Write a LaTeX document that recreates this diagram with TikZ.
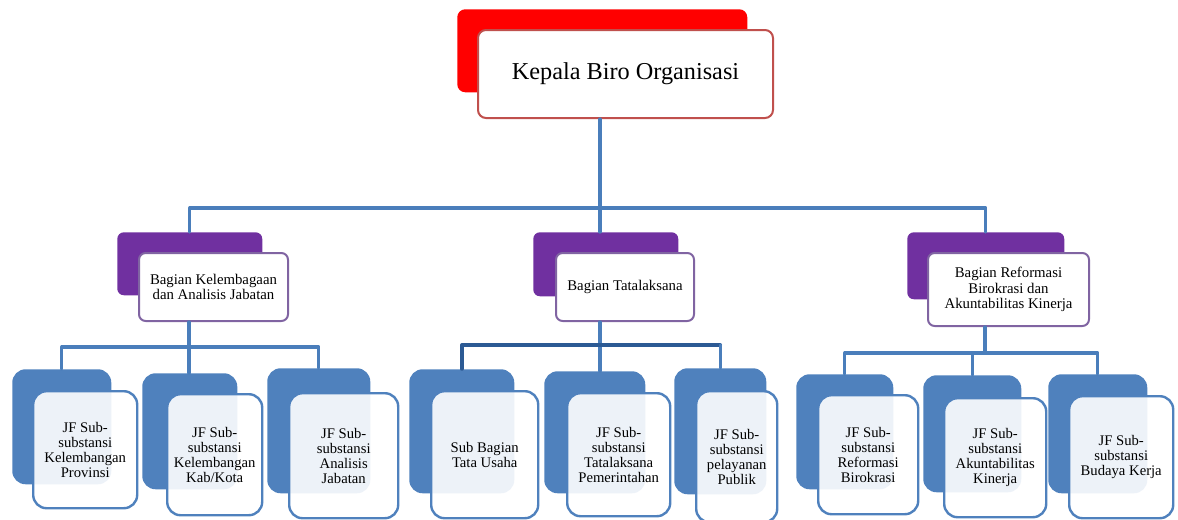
\documentclass[tikz,border=0pt]{standalone}
\usepackage{fontspec}
\setmainfont{Liberation Serif}
\definecolor{lnblue}{HTML}{4A7EBB}
\definecolor{lndark}{HTML}{2C5A94}
\definecolor{bkblue}{HTML}{4F81BD}
\definecolor{bkpurple}{HTML}{7030A0}
\definecolor{frpurple}{HTML}{8064A2}
\definecolor{frred}{HTML}{C0504D}
% box from pixel corners (x1,y1) to (x2,y2)
\newcommand\orgbox[7]{\node[#6,anchor=north west,inner sep=0pt,align=center,
  minimum width={(#4-#2)*0.75pt},minimum height={(#5-#3)*0.75pt}] (#1) at (#2,#3) {#7};}
\begin{document}
\begin{tikzpicture}[x=0.75pt,y=-0.75pt,line join=round,line cap=round,
  topback/.style={fill=red,rounded corners=6pt},
  topfront/.style={draw=frred,line width=1.5pt,fill=white,rounded corners=6pt,font=\fontsize{18.2}{20}\selectfont},
  midback/.style={fill=bkpurple,rounded corners=5pt},
  midfront/.style={draw=frpurple,line width=1.5pt,fill=white,rounded corners=5pt,font=\fontsize{11.1}{11.8}\selectfont},
  jfback/.style={fill=bkblue,rounded corners=10pt},
  jffront/.style={draw=bkblue,line width=1.8pt,fill=white,fill opacity=0.9,text opacity=1,rounded corners=10pt,font=\fontsize{11}{11.3}\selectfont},
  link/.style={draw=lnblue,line width=2.4pt},
  linkdark/.style={draw=lndark,line width=2.6pt}]
\useasboundingbox (0,0) rectangle (1178,519);
% top
\orgbox{kepalaB}{457}{9}{747}{92}{topback}{}
\orgbox{kepala}{477}{29}{772}{117}{topfront}{Kepala Biro Organisasi}
% middle level
\orgbox{kelB}{117}{232}{262}{295}{midback}{}
\orgbox{kel}{138}{252}{287}{320}{midfront}{Bagian Kelembagaan\\dan Analisis Jabatan}
\orgbox{tatB}{533}{232}{678}{296}{midback}{}
\orgbox{tat}{555}{252}{693}{320}{midfront}{Bagian Tatalaksana}
\orgbox{refB}{907}{232}{1064}{299}{midback}{}
\orgbox{ref}{927}{252}{1088}{325}{midfront}{Bagian Reformasi\\Birokrasi dan\\Akuntabilitas Kinerja}
% bottom level
\orgbox{kaB}{12}{369}{111}{484}{jfback}{}
\orgbox{ka}{32}{390}{136}{507}{jffront}{JF Sub-\\substansi\\Kelembangan\\Provinsi}
\orgbox{kbB}{142}{373}{237}{489}{jfback}{}
\orgbox{kb}{166}{393}{261}{514}{jffront}{JF Sub-\\substansi\\Kelembangan\\Kab/Kota}
\orgbox{kcB}{267}{368}{370}{493}{jfback}{}
\orgbox{kc}{288}{392}{397}{517}{jffront}{JF Sub-\\substansi\\Analisis\\Jabatan}
\orgbox{taB}{409}{369}{514}{493}{jfback}{}
\orgbox{ta}{430}{390}{537}{517}{jffront}{Sub Bagian\\Tata Usaha}
\orgbox{tbB}{544}{371}{645}{493}{jfback}{}
\orgbox{tb}{566}{392}{669}{515}{jffront}{JF Sub-\\substansi\\Tatalaksana\\Pemerintahan}
\orgbox{tcB}{674}{368}{766}{494}{jfback}{}
\orgbox{tc}{695}{390}{776}{521}{jffront}{JF Sub-\\substansi\\pelayanan\\Publik}
\orgbox{raB}{796}{374}{893}{489}{jfback}{}
\orgbox{ra}{817}{394}{917}{513}{jffront}{JF Sub-\\substansi\\Reformasi\\Birokrasi}
\orgbox{rbB}{923}{375}{1021}{492}{jfback}{}
\orgbox{rb}{943}{397}{1045}{516}{jffront}{JF Sub-\\substansi\\Akuntabilitas\\Kinerja}
\orgbox{rcB}{1048}{374}{1147}{493}{jfback}{}
\orgbox{rc}{1068}{395}{1172}{517}{jffront}{JF Sub-\\substansi\\Budaya Kerja}
% connectors
\coordinate (busA) at (600,208);
\coordinate (busL) at (189,347);
\coordinate (busC) at (600,345);
\coordinate (busR) at (985,353);
\draw[link] (kepala.south -| busA) -- (busA);
\draw[link] (kelB.north) |- (busA) -| (refB.north);
\draw[link] (busA) -- (busA |- tatB.north);
\draw[link] (kel.south -| busL) -- (busL);
\draw[link] (kaB.north) |- (busL) -| (kcB.north);
\draw[link] (busL) -- (busL |- kbB.north);
\draw[link] (tat.south -| busC) -- (busC) -- (busC |- tbB.north);
\draw[linkdark] (taB.north) |- (busC) -- (busC -| tcB.north);
\draw[link] (busC -| tcB.north) -- (tcB.north);
\draw[link] (ref.south -| busR) -- (busR);
\draw[link] (raB.north) |- (busR) -| (rcB.north);
\draw[link] (rbB.north |- busR) -- (rbB.north);
\end{tikzpicture}
\end{document}
